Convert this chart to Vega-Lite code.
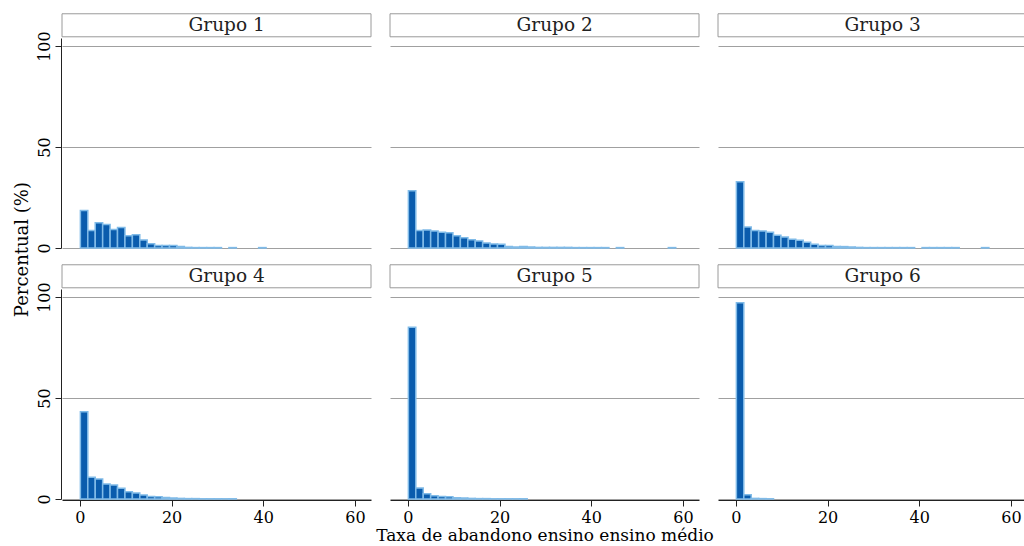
{
  "$schema": "https://vega.github.io/schema/vega-lite/v6.json",
  "background": "white",
  "padding": {"left": 13, "top": 13, "right": 0, "bottom": 2},
  "title": {"text": "Percentual (%)", "orient": "left", "anchor": "middle", "font": "DejaVu Serif", "fontSize": 18, "fontWeight": "normal", "color": "#000000", "offset": 4, "dx": 29},
  "datasets": {
    "hist": [
      {"grupo": "Grupo 1", "inicio": 0, "pct": 18.6},
      {"grupo": "Grupo 1", "inicio": 1.62, "pct": 8.7},
      {"grupo": "Grupo 1", "inicio": 3.24, "pct": 12.5},
      {"grupo": "Grupo 1", "inicio": 4.86, "pct": 11.6},
      {"grupo": "Grupo 1", "inicio": 6.48, "pct": 9.2},
      {"grupo": "Grupo 1", "inicio": 8.1, "pct": 10.2},
      {"grupo": "Grupo 1", "inicio": 9.72, "pct": 6.1},
      {"grupo": "Grupo 1", "inicio": 11.34, "pct": 6.6},
      {"grupo": "Grupo 1", "inicio": 12.96, "pct": 4.0},
      {"grupo": "Grupo 1", "inicio": 14.58, "pct": 2.1},
      {"grupo": "Grupo 1", "inicio": 16.2, "pct": 1.3},
      {"grupo": "Grupo 1", "inicio": 17.82, "pct": 1.3},
      {"grupo": "Grupo 1", "inicio": 19.44, "pct": 1.3},
      {"grupo": "Grupo 1", "inicio": 21.06, "pct": 0.8},
      {"grupo": "Grupo 1", "inicio": 22.68, "pct": 0.3},
      {"grupo": "Grupo 1", "inicio": 24.3, "pct": 0.2},
      {"grupo": "Grupo 1", "inicio": 25.92, "pct": 0.2},
      {"grupo": "Grupo 1", "inicio": 27.54, "pct": 0.2},
      {"grupo": "Grupo 1", "inicio": 29.16, "pct": 0.2},
      {"grupo": "Grupo 1", "inicio": 32.4, "pct": 0.2},
      {"grupo": "Grupo 1", "inicio": 38.88, "pct": 0.2},
      {"grupo": "Grupo 2", "inicio": 0, "pct": 28.4},
      {"grupo": "Grupo 2", "inicio": 1.62, "pct": 8.7},
      {"grupo": "Grupo 2", "inicio": 3.24, "pct": 8.9},
      {"grupo": "Grupo 2", "inicio": 4.86, "pct": 8.4},
      {"grupo": "Grupo 2", "inicio": 6.48, "pct": 7.8},
      {"grupo": "Grupo 2", "inicio": 8.1, "pct": 7.6},
      {"grupo": "Grupo 2", "inicio": 9.72, "pct": 6.1},
      {"grupo": "Grupo 2", "inicio": 11.34, "pct": 5.1},
      {"grupo": "Grupo 2", "inicio": 12.96, "pct": 4.1},
      {"grupo": "Grupo 2", "inicio": 14.58, "pct": 3.5},
      {"grupo": "Grupo 2", "inicio": 16.2, "pct": 2.5},
      {"grupo": "Grupo 2", "inicio": 17.82, "pct": 2.0},
      {"grupo": "Grupo 2", "inicio": 19.44, "pct": 1.8},
      {"grupo": "Grupo 2", "inicio": 21.06, "pct": 0.8},
      {"grupo": "Grupo 2", "inicio": 22.68, "pct": 0.5},
      {"grupo": "Grupo 2", "inicio": 24.3, "pct": 0.8},
      {"grupo": "Grupo 2", "inicio": 25.92, "pct": 0.5},
      {"grupo": "Grupo 2", "inicio": 27.54, "pct": 0.3},
      {"grupo": "Grupo 2", "inicio": 29.16, "pct": 0.3},
      {"grupo": "Grupo 2", "inicio": 30.78, "pct": 0.3},
      {"grupo": "Grupo 2", "inicio": 32.4, "pct": 0.3},
      {"grupo": "Grupo 2", "inicio": 34.02, "pct": 0.3},
      {"grupo": "Grupo 2", "inicio": 35.64, "pct": 0.2},
      {"grupo": "Grupo 2", "inicio": 37.26, "pct": 0.2},
      {"grupo": "Grupo 2", "inicio": 38.88, "pct": 0.2},
      {"grupo": "Grupo 2", "inicio": 40.5, "pct": 0.2},
      {"grupo": "Grupo 2", "inicio": 42.12, "pct": 0.2},
      {"grupo": "Grupo 2", "inicio": 45.36, "pct": 0.2},
      {"grupo": "Grupo 2", "inicio": 56.7, "pct": 0.2},
      {"grupo": "Grupo 3", "inicio": 0, "pct": 32.8},
      {"grupo": "Grupo 3", "inicio": 1.62, "pct": 10.4},
      {"grupo": "Grupo 3", "inicio": 3.24, "pct": 8.7},
      {"grupo": "Grupo 3", "inicio": 4.86, "pct": 8.4},
      {"grupo": "Grupo 3", "inicio": 6.48, "pct": 7.8},
      {"grupo": "Grupo 3", "inicio": 8.1, "pct": 6.3},
      {"grupo": "Grupo 3", "inicio": 9.72, "pct": 5.4},
      {"grupo": "Grupo 3", "inicio": 11.34, "pct": 4.3},
      {"grupo": "Grupo 3", "inicio": 12.96, "pct": 3.8},
      {"grupo": "Grupo 3", "inicio": 14.58, "pct": 2.8},
      {"grupo": "Grupo 3", "inicio": 16.2, "pct": 1.8},
      {"grupo": "Grupo 3", "inicio": 17.82, "pct": 1.3},
      {"grupo": "Grupo 3", "inicio": 19.44, "pct": 1.2},
      {"grupo": "Grupo 3", "inicio": 21.06, "pct": 0.8},
      {"grupo": "Grupo 3", "inicio": 22.68, "pct": 0.7},
      {"grupo": "Grupo 3", "inicio": 24.3, "pct": 0.5},
      {"grupo": "Grupo 3", "inicio": 25.92, "pct": 0.3},
      {"grupo": "Grupo 3", "inicio": 27.54, "pct": 0.2},
      {"grupo": "Grupo 3", "inicio": 29.16, "pct": 0.2},
      {"grupo": "Grupo 3", "inicio": 30.78, "pct": 0.2},
      {"grupo": "Grupo 3", "inicio": 32.4, "pct": 0.2},
      {"grupo": "Grupo 3", "inicio": 34.02, "pct": 0.2},
      {"grupo": "Grupo 3", "inicio": 35.64, "pct": 0.2},
      {"grupo": "Grupo 3", "inicio": 37.26, "pct": 0.2},
      {"grupo": "Grupo 3", "inicio": 40.5, "pct": 0.2},
      {"grupo": "Grupo 3", "inicio": 42.12, "pct": 0.2},
      {"grupo": "Grupo 3", "inicio": 43.74, "pct": 0.2},
      {"grupo": "Grupo 3", "inicio": 45.36, "pct": 0.2},
      {"grupo": "Grupo 3", "inicio": 46.98, "pct": 0.2},
      {"grupo": "Grupo 3", "inicio": 53.46, "pct": 0.2},
      {"grupo": "Grupo 4", "inicio": 0, "pct": 43.2},
      {"grupo": "Grupo 4", "inicio": 1.62, "pct": 10.8},
      {"grupo": "Grupo 4", "inicio": 3.24, "pct": 9.9},
      {"grupo": "Grupo 4", "inicio": 4.86, "pct": 7.4},
      {"grupo": "Grupo 4", "inicio": 6.48, "pct": 6.9},
      {"grupo": "Grupo 4", "inicio": 8.1, "pct": 5.3},
      {"grupo": "Grupo 4", "inicio": 9.72, "pct": 3.6},
      {"grupo": "Grupo 4", "inicio": 11.34, "pct": 3.0},
      {"grupo": "Grupo 4", "inicio": 12.96, "pct": 2.0},
      {"grupo": "Grupo 4", "inicio": 14.58, "pct": 1.3},
      {"grupo": "Grupo 4", "inicio": 16.2, "pct": 1.1},
      {"grupo": "Grupo 4", "inicio": 17.82, "pct": 0.8},
      {"grupo": "Grupo 4", "inicio": 19.44, "pct": 0.5},
      {"grupo": "Grupo 4", "inicio": 21.06, "pct": 0.3},
      {"grupo": "Grupo 4", "inicio": 22.68, "pct": 0.2},
      {"grupo": "Grupo 4", "inicio": 24.3, "pct": 0.2},
      {"grupo": "Grupo 4", "inicio": 25.92, "pct": 0.1},
      {"grupo": "Grupo 4", "inicio": 27.54, "pct": 0.1},
      {"grupo": "Grupo 4", "inicio": 29.16, "pct": 0.1},
      {"grupo": "Grupo 4", "inicio": 30.78, "pct": 0.1},
      {"grupo": "Grupo 4", "inicio": 32.4, "pct": 0.1},
      {"grupo": "Grupo 5", "inicio": 0, "pct": 85.0},
      {"grupo": "Grupo 5", "inicio": 1.62, "pct": 5.4},
      {"grupo": "Grupo 5", "inicio": 3.24, "pct": 2.6},
      {"grupo": "Grupo 5", "inicio": 4.86, "pct": 1.6},
      {"grupo": "Grupo 5", "inicio": 6.48, "pct": 1.3},
      {"grupo": "Grupo 5", "inicio": 8.1, "pct": 1.1},
      {"grupo": "Grupo 5", "inicio": 9.72, "pct": 0.6},
      {"grupo": "Grupo 5", "inicio": 11.34, "pct": 0.5},
      {"grupo": "Grupo 5", "inicio": 12.96, "pct": 0.3},
      {"grupo": "Grupo 5", "inicio": 14.58, "pct": 0.2},
      {"grupo": "Grupo 5", "inicio": 16.2, "pct": 0.2},
      {"grupo": "Grupo 5", "inicio": 17.82, "pct": 0.1},
      {"grupo": "Grupo 5", "inicio": 19.44, "pct": 0.1},
      {"grupo": "Grupo 5", "inicio": 21.06, "pct": 0.1},
      {"grupo": "Grupo 5", "inicio": 22.68, "pct": 0.1},
      {"grupo": "Grupo 5", "inicio": 24.3, "pct": 0.1},
      {"grupo": "Grupo 6", "inicio": 0, "pct": 97.2},
      {"grupo": "Grupo 6", "inicio": 1.62, "pct": 2.1},
      {"grupo": "Grupo 6", "inicio": 3.24, "pct": 0.3},
      {"grupo": "Grupo 6", "inicio": 4.86, "pct": 0.2},
      {"grupo": "Grupo 6", "inicio": 6.48, "pct": 0.1}
    ]
  },
  "data": {"name": "hist"},
  "columns": 3,
  "spacing": {"column": 17, "row": 15},
  "facet": {
    "field": "grupo",
    "type": "nominal",
    "header": {
      "labels": false,
      "labelExpr": "''",
      "labelFontSize": 0,
      "labelPadding": 0,
      "title": "Taxa de abandono ensino ensino médio",
      "titleOrient": "bottom",
      "titleFont": "DejaVu Serif",
      "titleFontSize": 17,
      "titleFontWeight": "normal",
      "titleColor": "#000000",
      "titlePadding": 3
    }
  },
  "spec": {
    "width": 309,
    "height": 210,
    "layer": [
      {
        "mark": {"type": "bar", "fill": "#0a5cad", "stroke": "#80bbe8", "strokeWidth": 1.5, "binSpacing": 0},
        "encoding": {
          "x": {
            "field": "inicio",
            "type": "quantitative",
            "bin": {"binned": true, "step": 1.62},
            "scale": {"domain": [-3.9, 63.5], "nice": false, "zero": false},
            "axis": {"title": null, "values": [0, 20, 40, 60], "grid": false, "format": "d"}
          },
          "y": {
            "field": "pct",
            "type": "quantitative",
            "scale": {"domain": [0, 104], "nice": false},
            "axis": {"title": null, "values": [0, 50, 100], "grid": true, "labelAngle": -90, "labelAlign": "center", "labelBaseline": "bottom"}
          }
        }
      },
      {
        "transform": [{"aggregate": [{"op": "count", "as": "n"}], "groupby": ["grupo"]}],
        "mark": {"type": "rect", "fill": "white", "stroke": "#9a9a9a", "strokeWidth": 1},
        "encoding": {
          "x": {"datum": -3.9},
          "x2": {"datum": 63.5},
          "y": {"datum": 104.6},
          "y2": {"datum": 116}
        }
      },
      {
        "transform": [{"aggregate": [{"op": "count", "as": "n"}], "groupby": ["grupo"]}],
        "mark": {"type": "text", "font": "DejaVu Serif", "fontSize": 18.5, "baseline": "middle", "align": "center", "color": "#222222"},
        "encoding": {
          "x": {"datum": 32},
          "y": {"datum": 110.3},
          "text": {"field": "grupo"}
        }
      }
    ]
  },
  "config": {
    "view": {"stroke": null},
    "header": {"labels": false},
    "axis": {
      "labelFont": "DejaVu Serif",
      "labelFontSize": 16,
      "labelColor": "#000000",
      "domainColor": "#222222",
      "tickColor": "#222222",
      "tickSize": 6,
      "gridColor": "#a0a0a0",
      "gridWidth": 1,
      "labelPadding": 3
    }
  }
}
